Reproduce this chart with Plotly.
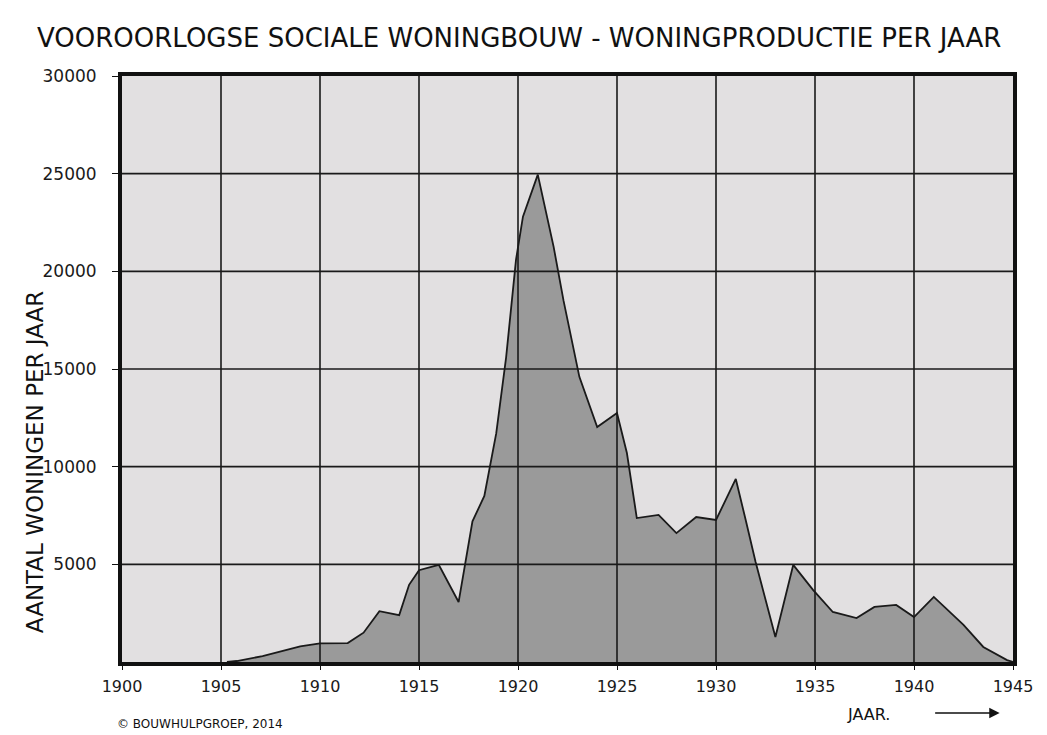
import plotly.graph_objects as go

# --- data ---
years = [1905.3, 1905.8, 1907.1, 1909.0, 1910.0, 1911.4, 1912.2, 1913.0, 1914.0, 1914.5,
         1915.0, 1916.0, 1917.0, 1917.7, 1918.3, 1918.9, 1919.4, 1919.9, 1920.25, 1921.0,
         1921.8, 1922.3, 1923.1, 1924.0, 1925.0, 1925.5, 1926.0, 1927.1, 1928.0, 1929.0,
         1930.0, 1931.0, 1931.5, 1932.0, 1933.0, 1933.9, 1934.9, 1935.9, 1937.1, 1938.0,
         1939.1, 1940.0, 1941.0, 1942.5, 1943.5, 1944.7, 1945.0]
woningen = [0, 50, 300, 800, 950, 970, 1500, 2600, 2400, 3950,
            4700, 4970, 3070, 7200, 8500, 11700, 15600, 20600, 22800, 24950,
            21250, 18500, 14600, 12030, 12750, 10700, 7370, 7530, 6600, 7420,
            7270, 9370, 7270, 5120, 1280, 4970, 3690, 2560, 2250, 2820,
            2920, 2300, 3330, 1900, 770, 100, 0]

x_ticks = [1900, 1905, 1910, 1915, 1920, 1925, 1930, 1935, 1940, 1945]
x_tick_labels = ["1900", "1905", "1910", "1915", "1920", "1925", "1930", "1935", "1940", "1945"]
y_ticks = [5000, 10000, 15000, 20000, 25000, 30000]
y_tick_labels = ["5000", "10000", "15000", "20000", "25000", "30000"]

title_text = "VOOROORLOGSE SOCIALE WONINGBOUW - WONINGPRODUCTIE PER JAAR"
y_title = "AANTAL WONINGEN PER JAAR"
x_title = "JAAR."
credit = "© BOUWHULPGROEP, 2014"

FONT = "DejaVu Sans"

fig = go.Figure()
fig.add_trace(go.Scatter(
    x=years, y=woningen, mode="lines", fill="tozeroy",
    fillcolor="#9a9a9a", line=dict(color="#1a1a1a", width=1.8),
    hoverinfo="x+y", showlegend=False,
))

shapes = []
for xv in x_ticks[1:-1]:
    shapes.append(dict(type="line", xref="x", yref="paper", x0=xv, x1=xv, y0=0, y1=1,
                       line=dict(color="#1a1a1a", width=1.6), layer="above"))
for yv in y_ticks[:-1]:
    shapes.append(dict(type="line", xref="paper", yref="y", x0=0, x1=1, y0=yv, y1=yv,
                       line=dict(color="#1a1a1a", width=1.6), layer="above"))

fig.update_layout(
    width=1039, height=727,
    margin=dict(l=114, r=34, t=68, b=73),
    paper_bgcolor="white", plot_bgcolor="#e2e0e1",
    font=dict(family=FONT, color="#1a1a1a"),
    shapes=shapes,
    xaxis=dict(range=[1900, 1945], tickmode="array", tickvals=x_ticks, ticktext=x_tick_labels,
               showgrid=False, zeroline=False, showline=True, mirror=True,
               linecolor="#111", linewidth=4, ticks="outside", ticklen=4, tickcolor="#111",
               ticklabelstandoff=3,
               tickfont=dict(size=16, family=FONT), fixedrange=True),
    yaxis=dict(range=[0, 30000], tickmode="array", tickvals=y_ticks, ticktext=y_tick_labels,
               showgrid=False, zeroline=False, showline=True, mirror=True,
               linecolor="#111", linewidth=4, ticks="outside", ticklen=6, tickcolor="#111",
               ticklabelstandoff=12,
               tickfont=dict(size=17, family=FONT), fixedrange=True),
    annotations=[
        dict(text=title_text, xref="paper", yref="paper", x=-0.0976, y=1.065,
             xanchor="left", yanchor="middle", showarrow=False,
             font=dict(size=26, family=FONT, color="#111")),
        dict(text=y_title, xref="paper", yref="paper", x=-0.0976, y=0.341,
             xanchor="center", yanchor="middle", textangle=-90, showarrow=False,
             font=dict(size=23, family=FONT, color="#111")),
        dict(text=x_title, xref="paper", yref="paper", x=0.811, y=-0.0904,
             xanchor="left", yanchor="middle", showarrow=False,
             font=dict(size=16, family=FONT, color="#111")),
        dict(text="", xref="paper", yref="paper", x=0.985, y=-0.087,
             showarrow=True, ax=-66, ay=0, arrowhead=2, arrowsize=1.3, arrowwidth=1.6,
             arrowcolor="#111"),
        dict(text=credit, xref="paper", yref="paper", x=-0.0079, y=-0.106,
             xanchor="left", yanchor="middle", showarrow=False,
             font=dict(size=12, family=FONT, color="#111")),
    ],
)

fig.write_html("out.html")
